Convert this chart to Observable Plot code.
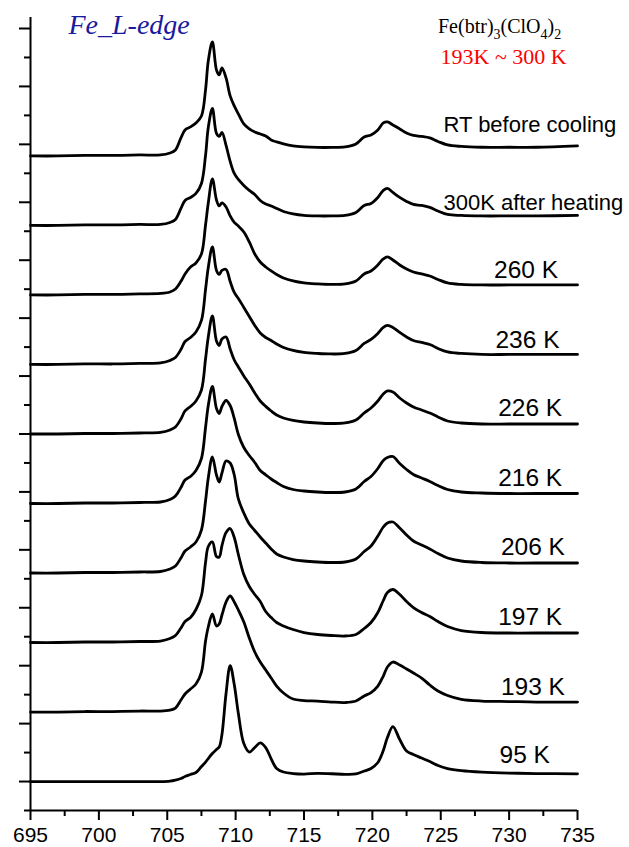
<!DOCTYPE html>
<html><head><meta charset="utf-8">
<script src="https://cdn.jsdelivr.net/npm/d3@7"></script>
<script src="https://cdn.jsdelivr.net/npm/@observablehq/plot@0.6"></script>
<style>
html,body{margin:0;padding:0;background:#fff;}
#chart{width:629px;height:847px;}
</style></head><body><div id="chart"></div>
<script>
// ---------- DATA ----------
const energy = [695,697,699,701,703,704.5,705.2,705.6,706.0,706.3,706.7,707.1,707.5,707.8,708.0,708.3,708.6,708.8,709.0,709.3,709.6,709.9,710.2,710.6,711.0,711.4,711.8,712.2,712.6,713.0,713.5,714.2,715,716,717,718,718.8,719.4,719.9,720.4,720.8,721.1,721.5,722.0,722.5,723.0,723.6,724.2,724.8,725.5,726.5,728,730,732,735];

const seriesNames = ["RT before cooling","300K after heating","260 K","236 K","226 K","216 K","206 K","197 K","193 K","95 K"];

const iRT   = [0,0,0.5,0.5,1,1,3,6,18,26,29,33,40,66,95,114,86,81,88,78,60,50,42,32,27,24,22,20,16,14,12,10,9,8.5,8.5,9,12,19,21,26,33,34,31,27,23,20.5,19.5,18,14.5,11,9.5,8.7,8.7,8.7,10];
const i300K = [0,0,0.5,0.5,1,1,3,6,17,25,28,32,42,70,98,117,92,89,93,80,64,52,46,40,35,31,25,21.5,19.5,17,14,11.5,10,9.5,9.5,10,13,20,22,28,35,37,33,28,24,21,20,18,14.5,11,10,9.5,9.5,9.5,10];
const i260K = [0,0,0.5,0.5,1,1.5,3,6,13.6,21,28,32,41,70,92,116,95,89,92,88,79,72.5,69,63,53,41,33,28,24,20.5,17,14,12,11,10.5,11,14,21,24,30,36,38,35,30,26,23,21,19,15.5,12,10.5,10,10,10,10];
const i236K = [0,0,0.5,0.5,1,1.5,4,7,15,23,27,32.5,44,75,97,117.5,94,90,94,95,83,72,66,57,48,39,31.5,27,24,20.5,17,14,12,11,10.5,11,14,21,25,31,37,39,37,32,27.5,24,22,20,16,12.5,11,10,10,10,10];
const i226K = [0,0,0.5,0.5,1,1.5,4,7,15,23,27.5,33,44,75,97,118,93,88.5,95,97,85,74,67,58,50,41,33,27.6,23,19,16,13.5,12,11,10.5,11,14,21,26,33,40,43,42,36,31,27,24,21,17,13,11,10,10,10,10];
const i216K = [0,0,0.5,0.5,1,1.5,4,7.5,16,23.5,27,33,45,76,98,117,95,90,97,103,98,85,69,56,48,41,33,28.7,24.5,21,17,14,12.5,11.5,11,11.5,14.5,22,27,35,43,46,47,40,34,29,25.5,22,18,14,11.5,10.5,10,10,10];
const i206K = [0,0,0.5,0.5,1,1.5,4,7,15,22,26,31,43,72,95,116,98,91,100,112,110,98,74,60,49,42.5,36,30,24,19,16,13.5,12,11,10.5,11,14,21.5,27,37,46,50,51,45,38,32,28,24,19.5,15,12,10.5,10,10,10];
const i197K = [0,0,0.5,0.5,1,1.5,4,7,14.5,21,25,33,47,80,96,100.6,86,85.5,97,110,114,105,88,68,56,48,41,31,25,20,16.5,13,10,8,7,6.5,8,14,20,30,42,50,53,48,41,35,30,26,21,16,12,10,9.5,9.5,9.5];
const i193K = [0,0,0.5,0.5,1,1,2,4,12,18,23,28,40,71,85,98,86,88,97,110,116,110,102,90,74,60,50,42,34,26,19,13,11.5,11,10,9.5,11,16,19.5,26,36,45,50,47,43,39,34,27,21,16.5,12.7,11,10.5,10,10];
const i95K  = [0,0,0,0,0,0,0.5,1.5,3,5,7,9,15,19.5,23,28,32,34.5,47,88,116,97,68,38,29.5,34,38.7,34,22.7,13,9.5,8,7.5,8.2,7.8,7.2,7.6,10.5,13,19,31,44,55,42,30.5,27,23.5,20,16,13,11,9.5,8.5,8,7.7];

const xTicks = [695,700,705,710,715,720,725,730,735];
const xMinorTicks = [697.5,702.5,707.5,712.5,717.5,722.5,727.5,732.5];
const yMajorTicks = [1,3,5,7,9,11,13,15,17,19,21,23,25,27];
const yMinorTicks = [0,2,4,6,8,10,12,14,16,18,20,22,24,26];

// ---------- LAYOUT ----------
const intensities = [iRT,i300K,i260K,i236K,i226K,i216K,i206K,i197K,i193K,i95K];
const unitPerCount = 1/28.96;   // intensity (a.u.) -> axis units
const stackBase = 1, stackStep = 2.4;
const offsetOf = i => stackBase + stackStep*(intensities.length-1-i);

const rows = [];
intensities.forEach((arr,i) => {
  arr.forEach((v,j) => rows.push({series: seriesNames[i], e: energy[j], y: offsetOf(i) + v*unitPerCount}));
});

const labelPlace = [[725.2,0.83,22],[725.2,0.535,22],[728.9,0.6,24.5],[729.0,0.58,24.5],[729.2,0.61,24.5],[729.2,0.62,24.5],[729.4,0.61,24.5],[729.2,0.59,24.5],[729.4,0.59,24.5],[729.3,0.64,24.5]];
const labelRows = seriesNames.map((s,i) => ({text: s, e: labelPlace[i][0], y: offsetOf(i) + labelPlace[i][1], fs: labelPlace[i][2]}));

const serif = "'Liberation Serif','Times New Roman',serif";

const plot = Plot.plot({
  width: 629, height: 847,
  marginLeft: 30, marginRight: 52, marginTop: 17, marginBottom: 37,
  style: {fontFamily: "'Liberation Sans',Arial,sans-serif", fontSize: "21px", color: "black", background: "white"},
  x: {domain: [695,735]},
  y: {domain: [0,27.38]},
  marks: [
    Plot.axisX({ticks: xTicks, tickSize: 10, tickPadding: 7, strokeWidth: 2, fontSize: 21, label: null, tickFormat: d => String(d)}),
    Plot.axisX({ticks: xMinorTicks, tickSize: 6, strokeWidth: 2, tickFormat: () => "", label: null}),
    Plot.axisY({ticks: yMajorTicks, tickSize: 11, strokeWidth: 2, tickFormat: () => "", label: null}),
    Plot.axisY({ticks: yMinorTicks, tickSize: 6, strokeWidth: 2, tickFormat: () => "", label: null}),
    Plot.ruleX([695], {strokeWidth: 2}),
    Plot.ruleY([0], {strokeWidth: 2}),
    Plot.line(rows, {x: "e", y: "y", z: "series", curve: "catmull-rom", stroke: "black", strokeWidth: 2.8}),
    Plot.text(labelRows, {x: "e", y: "y", text: "text", fontSize: d => d.fs, textAnchor: "start", lineAnchor: "bottom", fill: "black"}),
    Plot.text(["Fe_L-edge"], {frameAnchor: "top-left", dx: 38, dy: 16, textAnchor: "start", lineAnchor: "bottom", fontSize: 28, fontStyle: "italic", fontFamily: serif, fill: "#1a1a9e"}),
    Plot.text(["193K ~ 300 K"], {frameAnchor: "top-left", dx: 410, dy: 46, textAnchor: "start", lineAnchor: "bottom", fontSize: 22, fontFamily: serif, fill: "#ff0000"})
  ]
});

// chemical formula with subscripts
const f = d3.select(plot).append("text")
  .attr("x", 438).attr("y", 33)
  .attr("text-anchor", "start")
  .attr("font-family", serif).attr("font-size", 20).attr("fill", "black");
const parts = [["Fe(btr)",0],["3",1],["(ClO",0],["4",1],[")",0],["2",1]];
let shifted = false;
parts.forEach(([t,sub]) => {
  const ts = f.append("tspan").text(t);
  if (sub) { ts.attr("font-size", 14).attr("dy", shifted ? 0 : 6); shifted = true; }
  else { if (shifted) ts.attr("dy", -6); shifted = false; }
});

document.getElementById("chart").appendChild(plot);
</script>
</body></html>
